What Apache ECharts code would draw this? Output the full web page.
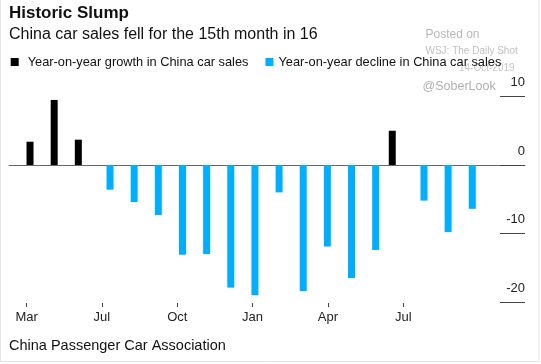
<!DOCTYPE html>
<html>
<head>
<meta charset="utf-8">
<script src="https://cdn.jsdelivr.net/npm/echarts@6/dist/echarts.min.js"></script>
<style>
html,body{margin:0;padding:0;background:#fff;}
#chart{width:541px;height:364px;}
</style>
</head>
<body>
<div id="chart"></div>
<script>
// ---- data ----
var months = ['Mar 2018','Apr 2018','May 2018','Jun 2018','Jul 2018','Aug 2018','Sep 2018','Oct 2018','Nov 2018','Dec 2018',
              'Jan 2019','Feb 2019','Mar 2019','Apr 2019','May 2019','Jun 2019','Jul 2019','Aug 2019','Sep 2019'];
var growth  = [3.4, 9.5, 3.7, null, null, null, null, null, null, null, null, null, null, null, null, 5.0, null, null, null];
var decline = [null, null, null, -3.6, -5.4, -7.3, -13.1, -13.0, -17.9, -19.0, -4.0, -18.4, -11.9, -16.5, -12.4, null, -5.2, -9.8, -6.4];
var tickLabels = ['Mar', 'Jul', 'Oct', 'Jan', 'Apr', 'Jul'];
var yTicks = [-20, -10, 0, 10];

var FONT = '"Liberation Sans", Arial, Helvetica, sans-serif';

function pairs(arr) {
  var out = [];
  arr.forEach(function (v, i) { if (v !== null) out.push([i, v]); });
  return out;
}

var chart = echarts.init(document.getElementById('chart'), null, {renderer: 'canvas'});
chart.setOption({
  backgroundColor: '#ffffff',
  animation: false,
  textStyle: {fontFamily: FONT},
  grid: {left: 9, right: 16, top: 96.5, bottom: 62, containLabel: false},
  legend: {
    left: 10.7, top: 55.5, padding: 0,
    itemWidth: 8, itemHeight: 8, itemGap: 17,
    icon: 'rect',
    textStyle: {fontSize: 12.8, color: '#111', fontFamily: FONT},
    data: [
      {name: 'Year-on-year growth in China car sales', textStyle: {padding: [0, 0, 0, 4]}},
      {name: 'Year-on-year decline in China car sales'}
    ]
  },
  xAxis: [
    {
      type: 'value', position: 'bottom',
      min: -1.027, max: 20.34,
      axisLine: {show: true, onZero: true, lineStyle: {color: '#666', width: 1}},
      axisTick: {show: false}, axisLabel: {show: false}, splitLine: {show: false}
    },
    {
      type: 'value', position: 'bottom', offset: 1,
      min: -0.2332, max: 6.6157,
      axisLine: {show: false, onZero: false},
      axisTick: {show: true, length: 4, customValues: tickLabels.map(function (_, i) { return i; }),
                 lineStyle: {color: '#444', width: 1}},
      axisLabel: {show: true, margin: 8, fontSize: 13, color: '#222', fontFamily: FONT,
                  customValues: tickLabels.map(function (_, i) { return i; }),
                  formatter: function (v) { return tickLabels[Math.round(v)] || ''; }},
      splitLine: {show: false}
    }
  ],
  yAxis: {
    type: 'value', position: 'right',
    min: yTicks[0], max: yTicks[yTicks.length - 1], interval: 10,
    axisLine: {show: false, onZero: false},
    splitLine: {show: false},
    axisTick: {show: true, inside: true, length: 25, lineStyle: {color: '#444', width: 1}},
    axisLabel: {inside: true, margin: 0, fontSize: 13, color: '#222', fontFamily: FONT,
                verticalAlign: 'bottom', lineHeight: 28}
  },
  series: [
    {
      name: 'Year-on-year growth in China car sales', type: 'bar',
      xAxisIndex: 0, yAxisIndex: 0,
      barWidth: 7, barGap: '8%',
      itemStyle: {color: '#000000'},
      data: pairs(growth)
    },
    {
      name: 'Year-on-year decline in China car sales', type: 'bar',
      xAxisIndex: 0, yAxisIndex: 0,
      barWidth: 7, barGap: '8%',
      itemStyle: {color: '#00aeff'},
      data: pairs(decline)
    }
  ],
  graphic: [
    {type: 'rect', silent: true, z: -10,
     shape: {x: 0.5, y: -2, width: 538.5, height: 363.5},
     style: {fill: 'none', stroke: '#e4e4e4', lineWidth: 1}},
    {type: 'text', x: 9, y: 13,
     style: {text: 'Historic Slump', font: 'bold 17px ' + FONT, fill: '#111', textVerticalAlign: 'middle'}},
    {type: 'text', x: 9, y: 34.5,
     style: {text: 'China car sales fell for the 15th month in 16', font: '16px ' + FONT, fill: '#111', textVerticalAlign: 'middle'}},
    {type: 'text', x: 425.5, y: 35,
     style: {text: 'Posted on', font: '12px ' + FONT, fill: '#b8b8b8', textVerticalAlign: 'middle'}},
    {type: 'text', x: 425.5, y: 51.5,
     style: {text: 'WSJ: The Daily Shot', font: '10px ' + FONT, fill: '#c0c0c0', textVerticalAlign: 'middle'}},
    {type: 'text', x: 459, y: 68.5, z: -1,
     style: {text: '14-Oct-2019', font: '10px ' + FONT, fill: '#c8c8c8', textVerticalAlign: 'middle'}},
    {type: 'text', x: 422.5, y: 86.5,
     style: {text: '@SoberLook', font: '12.5px ' + FONT, fill: '#b0b0b0', textVerticalAlign: 'middle'}},
    {type: 'text', x: 9, y: 345.5,
     style: {text: 'China Passenger Car Association', font: '14.5px ' + FONT, fill: '#111', textVerticalAlign: 'middle'}}
  ]
});
</script>
</body>
</html>
